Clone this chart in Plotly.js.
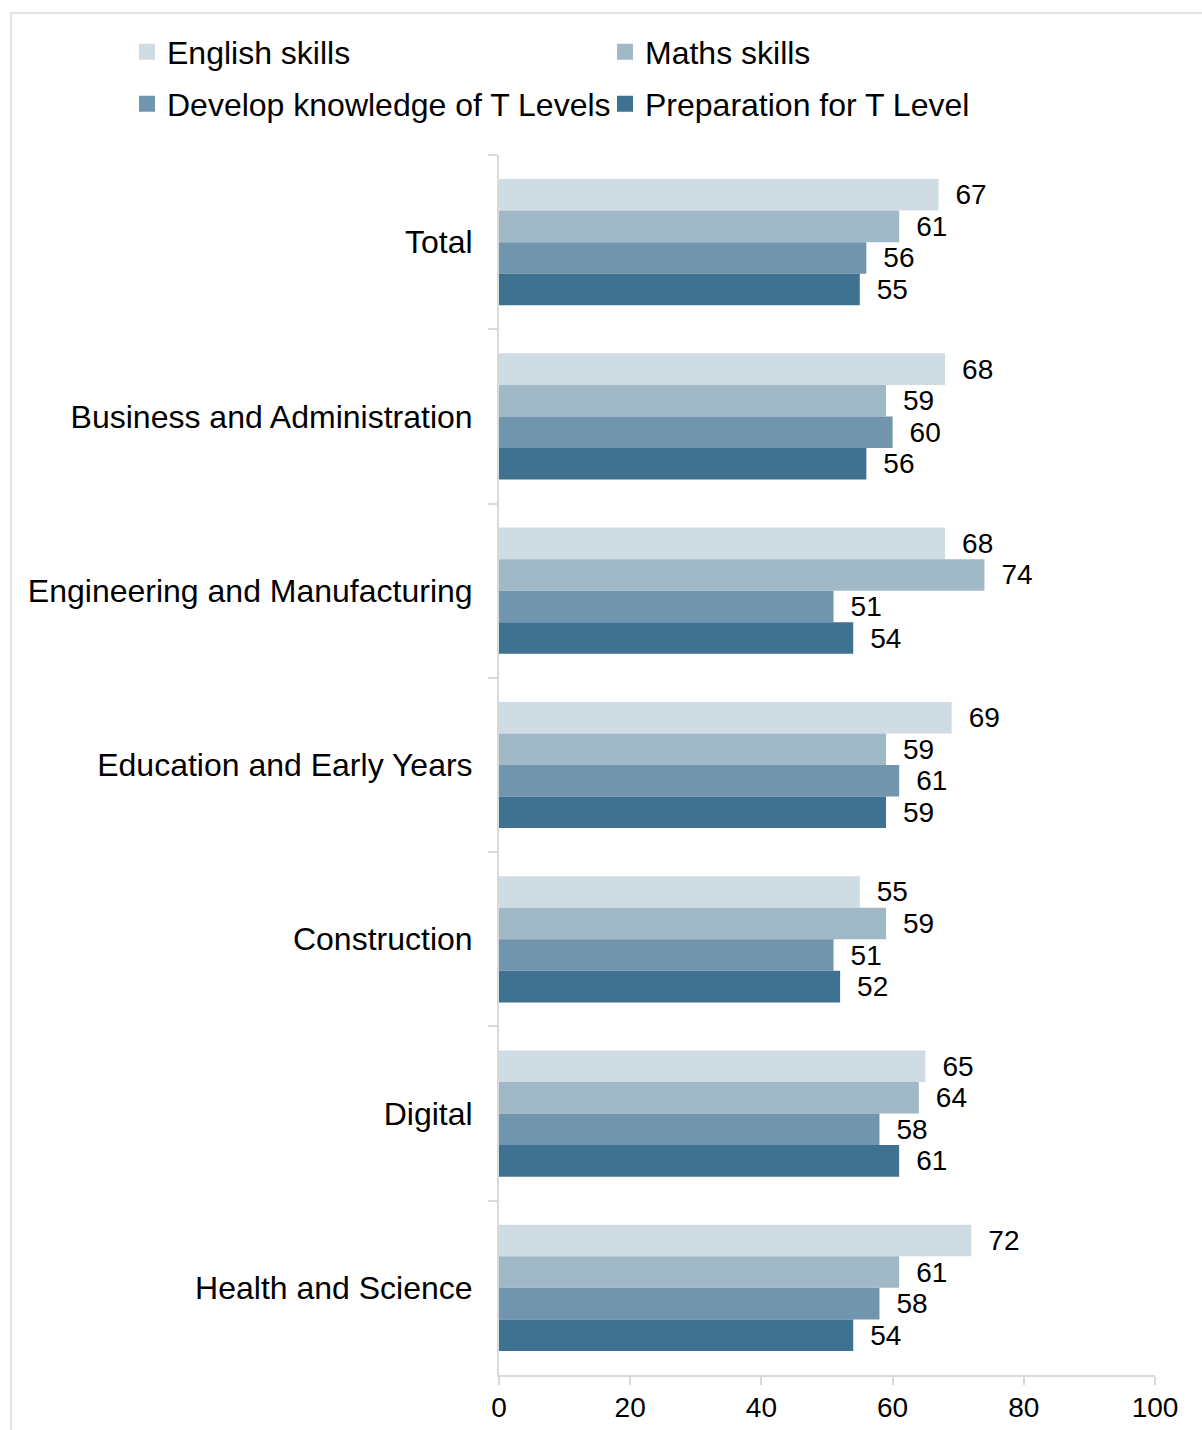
<!DOCTYPE html>
<html>
<head>
<meta charset="utf-8">
<script src="https://cdn.plot.ly/plotly-3.0.1.min.js"></script>
<style>
  html, body { margin: 0; padding: 0; background: #ffffff; }
  #wrap { position: relative; width: 1202px; height: 1430px; overflow: hidden; }
  #chart { width: 1202px; height: 1430px; }
  #frame { position: absolute; left: 10px; top: 12px; width: 1300px; height: 1500px;
           border: 2px solid #e3e3e3; pointer-events: none; box-sizing: border-box; }
</style>
</head>
<body>
<div id="wrap">
  <div id="chart"></div>
  <div id="frame"></div>
</div>
<script>
const categories = [
  "Total",
  "Business and Administration",
  "Engineering and Manufacturing",
  "Education and Early Years",
  "Construction",
  "Digital",
  "Health and Science"
];
const seriesNames = [
  "English skills",
  "Maths skills",
  "Develop knowledge of T Levels",
  "Preparation for T Level"
];
const englishSkills  = [67, 68, 68, 69, 55, 65, 72];
const mathsSkills    = [61, 59, 74, 59, 59, 64, 61];
const developKnow    = [56, 60, 51, 61, 51, 58, 58];
const preparation    = [55, 56, 54, 59, 52, 61, 54];
const xTickValues = [0, 20, 40, 60, 80, 100];

const seriesValues = [englishSkills, mathsSkills, developKnow, preparation];
const colors = ["#cfdce3", "#a1b8c7", "#7095ad", "#3f7191"];
const legendIds = ["legend", "legend2", "legend3", "legend4"];
// legend anchor positions in container pixels (left x, centre y)
const legendPos = [[127, 52], [605, 52], [127, 104], [605, 104]];
const FONT = "'Liberation Sans', Arial, sans-serif";

const traces = [];
seriesValues.forEach((vals, i) => {
  traces.push({
    type: "bar",
    orientation: "h",
    name: seriesNames[i],
    y: categories,
    x: vals,
    marker: { color: colors[i], line: { width: 0 } },
    texttemplate: "\u2002%{x}",
    textposition: "outside",
    textfont: { family: FONT, size: 28, color: "#000000" },
    constraintext: "none",
    cliponaxis: false,
    showlegend: false,
    hoverinfo: "x+name"
  });
});
// legend proxies (square swatches)
seriesValues.forEach((vals, i) => {
  traces.push({
    type: "scatter",
    mode: "markers",
    name: seriesNames[i],
    x: [null],
    y: [null],
    marker: { symbol: "square", size: 16, color: colors[i] },
    legend: legendIds[i],
    showlegend: true,
    hoverinfo: "skip"
  });
});

const layout = {
  width: 1202,
  height: 1430,
  margin: { l: 499, r: 47, t: 155, b: 55, pad: 0 },
  paper_bgcolor: "#ffffff",
  plot_bgcolor: "#ffffff",
  barmode: "group",
  bargap: 0.276,
  bargroupgap: 0,
  font: { family: FONT, size: 28, color: "#000000" },
  showlegend: true,
  xaxis: {
    range: [0, 100],
    tickvals: xTickValues,
    ticktext: xTickValues.map(String),
    showgrid: false,
    zeroline: false,
    showline: true,
    linecolor: "#d9d9d9",
    linewidth: 2,
    ticks: "outside",
    ticklen: 8,
    tickwidth: 2,
    tickcolor: "#d9d9d9",
    ticklabelstandoff: -2,
    tickfont: { family: FONT, size: 28, color: "#000000" },
    fixedrange: true
  },
  yaxis: {
    type: "category",
    categoryorder: "array",
    categoryarray: categories,
    autorange: "reversed",
    showgrid: false,
    zeroline: false,
    showline: true,
    linecolor: "#d9d9d9",
    linewidth: 2,
    ticks: "outside",
    tickson: "boundaries",
    ticklen: 9,
    tickwidth: 2,
    tickcolor: "#d9d9d9",
    ticklabelstandoff: 18,
    tickfont: { family: FONT, size: 32, color: "#000000" },
    fixedrange: true
  }
};

legendIds.forEach((id, i) => {
  layout[id] = {
    orientation: "h",
    xref: "container",
    yref: "container",
    x: legendPos[i][0] / 1202,
    y: 1 - legendPos[i][1] / 1430,
    xanchor: "left",
    yanchor: "middle",
    font: { family: FONT, size: 32, color: "#000000" },
    bgcolor: "rgba(0,0,0,0)",
    borderwidth: 0
  };
});

Plotly.newPlot("chart", traces, layout, { displayModeBar: false, staticPlot: true });
</script>
</body>
</html>
